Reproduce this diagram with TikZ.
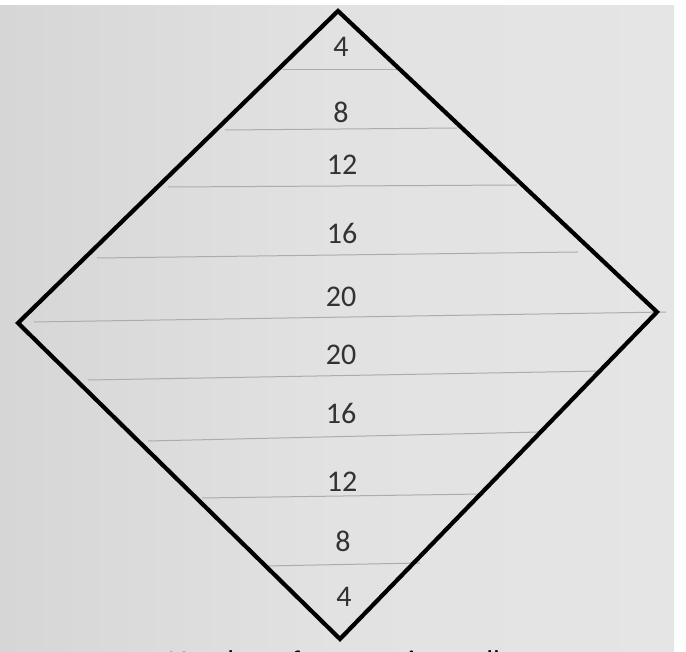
\documentclass[tikz,border=0pt]{standalone}
\usepackage{fontspec}
\setmainfont{Carlito}
\definecolor{paperL}{RGB}{214,214,214}
\definecolor{paperM}{RGB}{226,226,226}
\definecolor{paperR}{RGB}{229,229,229}
\definecolor{rulegray}{RGB}{172,172,172}
\definecolor{digit}{RGB}{50,50,50}
\begin{document}
\begin{tikzpicture}[x=1pt,y=-1pt,
  numlabel/.style={font=\fontsize{30}{30}\selectfont, text=digit, inner sep=0pt},
  rowline/.style={draw=rulegray, line width=1pt},
  diamondline/.style={draw=black, line width=4.2pt, line join=miter}]
\useasboundingbox (0,0) rectangle (686,652);
\fill[white] (0,0) rectangle (686,652);
\shade[left color=paperL, right color=paperR, middle color=paperM] (0,6) rectangle (674,652);
% diamond vertices
\coordinate (T) at (338,11);
\coordinate (L) at (18,323);
\coordinate (R) at (657,312);
\coordinate (B) at (340,639);
% row lines
\coordinate (a1) at (283,70);  \coordinate (b1) at (398,70);
\coordinate (a2) at (225,130); \coordinate (b2) at (457,128);
\coordinate (a3) at (168,187); \coordinate (b3) at (517,185);
\coordinate (a4) at (97,258);  \coordinate (b4) at (578,252);
\coordinate (a5) at (34,322);  \coordinate (b5) at (666,312);
\coordinate (a6) at (88,380);  \coordinate (b6) at (603,371);
\coordinate (a7) at (148,441); \coordinate (b7) at (540,432);
\coordinate (a8) at (202,498); \coordinate (b8) at (484,494);
\coordinate (a9) at (265,566); \coordinate (b9) at (420,563);
\foreach \i in {1,...,9} { \draw[rowline] (a\i) -- (b\i); }
\draw[diamondline] (T) -- (R) -- (B) -- (L) -- cycle;
% numbers
\node[numlabel] (n1) at (341,47) {4};
\node[numlabel] (n2) at (341,112) {8};
\node[numlabel] (n3) at (342,165) {12};
\node[numlabel] (n4) at (342,233) {16};
\node[numlabel] (n5) at (341,297) {20};
\node[numlabel] (n6) at (341,355) {20};
\node[numlabel] (n7) at (341,413) {16};
\node[numlabel] (n8) at (342,482) {12};
\node[numlabel] (n9) at (343,541) {8};
\node[numlabel] (n10) at (344,597) {4};
% cut-off caption
\begin{scope}
\clip (0,0) rectangle (686,652);
\node[anchor=base west, font=\fontsize{30}{30}\selectfont, text=black, inner sep=0pt] (cap) at (168,671) {Number of squares in a cell};
\end{scope}
\end{tikzpicture}
\end{document}
